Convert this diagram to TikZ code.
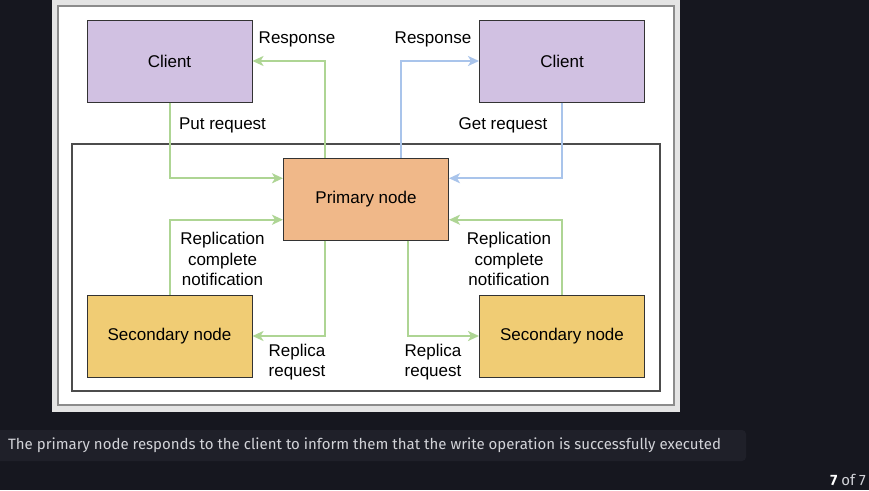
\documentclass[tikz,border=0pt]{standalone}
\usepackage{fontspec}
\setmainfont{Liberation Sans}
\newfontfamily\capfont{Fira Sans}
\usetikzlibrary{arrows.meta,calc}
\definecolor{pagebg}{HTML}{16171F}
\definecolor{capbg}{HTML}{1F2029}
\definecolor{captext}{HTML}{D2D3D8}
\definecolor{panelgray}{HTML}{E4E4E4}
\definecolor{clientfill}{HTML}{D1C1E2}
\definecolor{primfill}{HTML}{F0B889}
\definecolor{secfill}{HTML}{F0CC74}
\definecolor{greenline}{HTML}{AED594}
\definecolor{blueline}{HTML}{A9C4EB}
\begin{document}
\begin{tikzpicture}[x=1pt, y=-1pt,
    box/.style={draw=black!80, line width=1pt, minimum width=165pt,
                minimum height=82pt, inner sep=0pt, font=\fontsize{17}{20}\selectfont},
    lbl/.style={align=center, inner sep=0pt, font=\fontsize{17}{20.5}\selectfont},
    garrow/.style={draw=greenline, line width=2pt,
                   -{Stealth[length=11pt, width=10pt, inset=3pt]}},
    barrow/.style={garrow, draw=blueline}]
      \useasboundingbox (0, 0) rectangle (869, 490);
      \fill[pagebg] (0, 0) rectangle (869, 490);

      \fill[panelgray] (52, 0) rectangle (680, 412);
      \draw[fill=white, draw=black!45, line width=1.2pt] (58, 6) rectangle (674, 405);
      \draw[draw=black!70, line width=1.2pt] (72, 144) rectangle (660, 391);

      \node[box, fill=clientfill](CL) at (169.5, 61) {Client};
      \node[box, fill=clientfill](CR) at (562, 61) {Client};
      \node[box, fill=primfill](P) at (366, 199) {Primary node};
      \node[box, fill=secfill](SL) at (169.5, 336) {Secondary node};
      \node[box, fill=secfill](SR) at (562, 336) {Secondary node};

      \coordinate (Ptl) at ($(P.north west)!.25!(P.north east)$);
      \coordinate (Ptr) at ($(P.north west)!.71!(P.north east)$);
      \coordinate (Pbl) at ($(P.south west)!.25!(P.south east)$);
      \coordinate (Pbr) at ($(P.south west)!.75!(P.south east)$);
      \coordinate (Plt) at ($(P.north west)!.25!(P.south west)$);
      \coordinate (Plb) at ($(P.north west)!.75!(P.south west)$);
      \coordinate (Prt) at ($(P.north east)!.25!(P.south east)$);
      \coordinate (Prb) at ($(P.north east)!.75!(P.south east)$);

      \draw[garrow] (CL.south) |- (Plt);
      \draw[garrow] (Ptl) |- (CL.east);
      \draw[barrow] (Ptr) |- (CR.west);
      \draw[barrow] (CR.south) |- (Prt);
      \draw[garrow] (SL.north) |- (Plb);
      \draw[garrow] (SR.north) |- (Prb);
      \draw[garrow] (Pbl) |- (SL.east);
      \draw[garrow] (Pbr) |- (SR.west);

      \node[lbl](resl) at (297, 39.5) {Response};
      \node[lbl](resr) at (433, 39.5) {Response};
      \node[lbl](put) at (222.5, 125) {Put request};
      \node[lbl](get) at (503, 125) {Get request};
      \node[lbl](repcl) at (222.5, 259) {Replication\\complete\\notification};
      \node[lbl](repcr) at (509, 259) {Replication\\complete\\notification};
      \node[lbl](reql) at (297, 362) {Replica\\request};
      \node[lbl](reqr) at (433, 362) {Replica\\request};

      \fill[capbg, rounded corners=4pt] (-6, 430) rectangle (746, 461);
      \node[anchor=west, inner sep=0pt, text=captext,
            font=\capfont\fontsize{15}{18}\selectfont](cap) at (8, 445.5)
            {The primary node responds to the client to inform them that the write operation is successfully executed};
      \node[anchor=east, inner sep=0pt, text=captext,
            font=\capfont\fontsize{15}{18}\selectfont](pg) at (866, 479.5)
            {\textcolor{white}{\bfseries 7} of 7};
    \end{tikzpicture}
\end{document}
